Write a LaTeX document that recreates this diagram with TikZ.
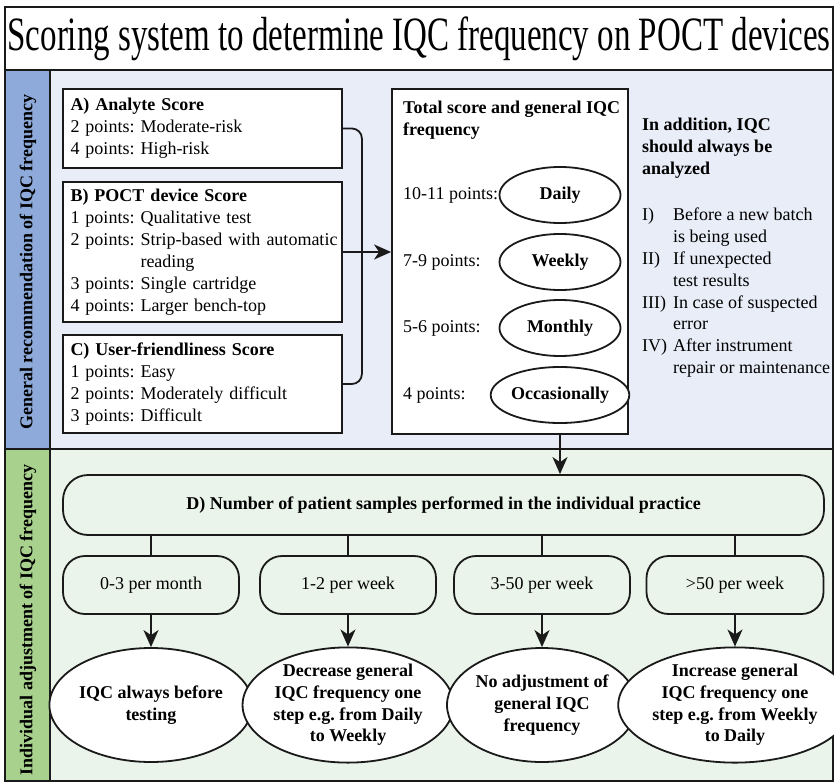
\documentclass[tikz,border=0pt]{standalone}
\usepackage{fontspec}
\setmainfont{LiberationSerif}[Extension=.ttf, UprightFont=*-Regular, BoldFont=*-Bold, ItalicFont=*-Italic, BoldItalicFont=*-BoldItalic]
\usepackage{graphicx}
\usetikzlibrary{arrows.meta,shapes.geometric}
\definecolor{topbg}{HTML}{E9EDF8}
\definecolor{topstrip}{HTML}{8EAADB}
\definecolor{botbg}{HTML}{EAF4EA}
\definecolor{botstrip}{HTML}{A9D18E}
\definecolor{ink}{HTML}{1A1A1A}
\hyphenpenalty=10000
\frenchspacing
\tikzset{
  txt/.style={font=\fontsize{18}{22}\selectfont, inner sep=0pt},
  sqbox/.style={draw=ink, line width=1.8pt, fill=white, font=\fontsize{18}{22}\selectfont, align=left, inner xsep=7.5pt, inner ysep=0pt},
  freq/.style={draw=ink, line width=1.8pt, fill=white, ellipse, minimum width=121pt, minimum height=56pt, inner sep=0pt, font=\fontsize{18}{22}\selectfont\bfseries},
  pill/.style={draw=ink, line width=1.8pt, rounded corners=22pt, minimum height=58pt, font=\fontsize{18}{22}\selectfont, inner sep=0pt},
  result/.style={draw=ink, line width=1.8pt, fill=white, ellipse, minimum height=114pt, inner sep=0pt, align=center, font=\fontsize{18}{21.7}\selectfont\bfseries},
  arr/.style={draw=ink, line width=1.8pt, -{Stealth[length=17pt,width=15pt,inset=5pt]}},
  conn/.style={draw=ink, line width=1.8pt},
  side/.style={rotate=90, font=\fontsize{18}{20}\selectfont\bfseries, inner sep=0pt},
}
\begin{document}
\begin{tikzpicture}[x=1pt,y=-1pt]
\useasboundingbox (0,0) rectangle (834,783);
% backgrounds
\fill[white] (0,0) rectangle (834,783);
\draw[ink, line width=1.3pt, fill=white] (5,7) rectangle (833,70);
\fill[topbg] (50,70) rectangle (833,449);
\fill[topstrip] (5,70) rectangle (50,449);
\fill[botbg] (50,449) rectangle (833,781);
\fill[botstrip] (5,449) rectangle (50,781);
\draw[ink, line width=1.3pt] (5,70) rectangle (833,449);
\draw[ink, line width=1.3pt] (5,449) rectangle (833,781);
\draw[ink, line width=1.3pt] (50,70) -- (50,781);
% title
\node[inner sep=0pt, font=\fontsize{33}{36}\selectfont] (title) at (419,39) {\scalebox{1}[1.45]{Scoring system to determine IQC frequency on POCT devices}};
% side labels
\node[side] (sideTop) at (28,262) {General recommendation of IQC frequency};
\node[side] (sideBot) at (28,620) {Individual adjustment of IQC frequency};
% score boxes
\node[sqbox, minimum width=279pt, minimum height=79pt, text width=264pt] (A) at (202.5,128.5)
  {\textbf{A) Analyte Score}\\2 points: Moderate-risk\\4 points: High-risk};
\node[sqbox, minimum width=279pt, minimum height=140pt, text width=264pt] (B) at (202.5,252)
  {\textbf{B) POCT device Score}\\1 points: Qualitative test\\\mbox{2 points: Strip-based with automatic}\\\phantom{2 points: }reading\\3 points: Single cartridge\\4 points: Larger bench-top};
\node[sqbox, minimum width=279pt, minimum height=98pt, text width=264pt] (C) at (202.5,384)
  {\textbf{C) User-friendliness Score}\\1 points: Easy\\2 points: Moderately difficult\\3 points: Difficult};
% total box
\node[draw=ink, line width=1.8pt, fill=white, minimum width=236pt, minimum height=345pt, inner sep=0pt] (T) at (510,261.5) {};
\node[txt, anchor=north west, align=left, font=\fontsize{18}{22}\selectfont\bfseries] (Ttitle) at (403,100.5) {Total score and general IQC\\frequency};
\node[txt, anchor=west] (p1) at (403,195) {10-11 points:};
\node[txt, anchor=west] (p2) at (403,262) {7-9 points:};
\node[txt, anchor=west] (p3) at (403,328) {5-6 points:};
\node[txt, anchor=west] (p4) at (403,395) {4 points:};
\node[freq] (daily) at (560,195) {Daily};
\node[freq] (weekly) at (560,262) {Weekly};
\node[freq] (monthly) at (560,328) {Monthly};
\node[freq] (occ) at (560,395) {Occasionally};
% brace connector and arrow
\draw[conn, rounded corners=10pt] (A.east) -- ++(19,0) |- (C.east);
\draw[arr] (B.east) -- (B.east -| T.west);
% right-hand notes
\node[txt, anchor=north west, align=left, font=\fontsize{18}{22}\selectfont\bfseries] (add) at (642,118) {In addition, IQC\\should always be\\analyzed};
\node[txt, anchor=north west, font=\fontsize{18}{21.8}\selectfont] (list) at (642,205.5) {%
  \begin{tabular}{@{}p{31pt}@{}l@{}}
  I) & Before a new batch\\
     & is being used\\
  II) & If unexpected\\
     & test results\\
  III) & In case of suspected\\
     & error\\
  IV) & After instrument\\
     & repair or maintenance
  \end{tabular}};
% bottom section
\node[draw=ink, line width=1.8pt, rounded corners=25pt, minimum width=761pt, minimum height=60pt, inner sep=0pt, font=\fontsize{18}{22}\selectfont\bfseries] (D) at (443.5,505)
  {D) Number of patient samples performed in the individual practice};
\draw[arr] (occ.south |- T.south) -- (occ.south |- D.north);
\node[pill, minimum width=176pt] (S1) at (151,585) {0-3 per month};
\node[pill, minimum width=176pt] (S2) at (348,585) {1-2 per week};
\node[pill, minimum width=176pt] (S3) at (542,585) {3-50 per week};
\node[pill, minimum width=177pt] (S4) at (735,585) {>50 per week};
\foreach \s in {S1,S2,S3,S4} { \draw[conn] (\s.north |- D.south) -- (\s.north); }
\node[result, minimum width=180pt] (E1) at (151,705) {IQC always before\\testing};
\node[result, minimum width=193pt] (E2) at (348,705) {Decrease general\\IQC frequency one\\step e.g. from Daily\\to Weekly};
\node[result, minimum width=190pt] (E3) at (542,705) {No adjustment of\\general IQC\\frequency};
\node[result, minimum width=190pt] (E4) at (735,705) {Increase general\\IQC frequency one\\step e.g. from Weekly\\to Daily};
\draw[arr] (S1.south) -- (E1.north);
\draw[arr] (S2.south) -- (E2.north);
\draw[arr] (S3.south) -- (E3.north);
\draw[arr] (S4.south) -- (E4.north);
\end{tikzpicture}
\end{document}
